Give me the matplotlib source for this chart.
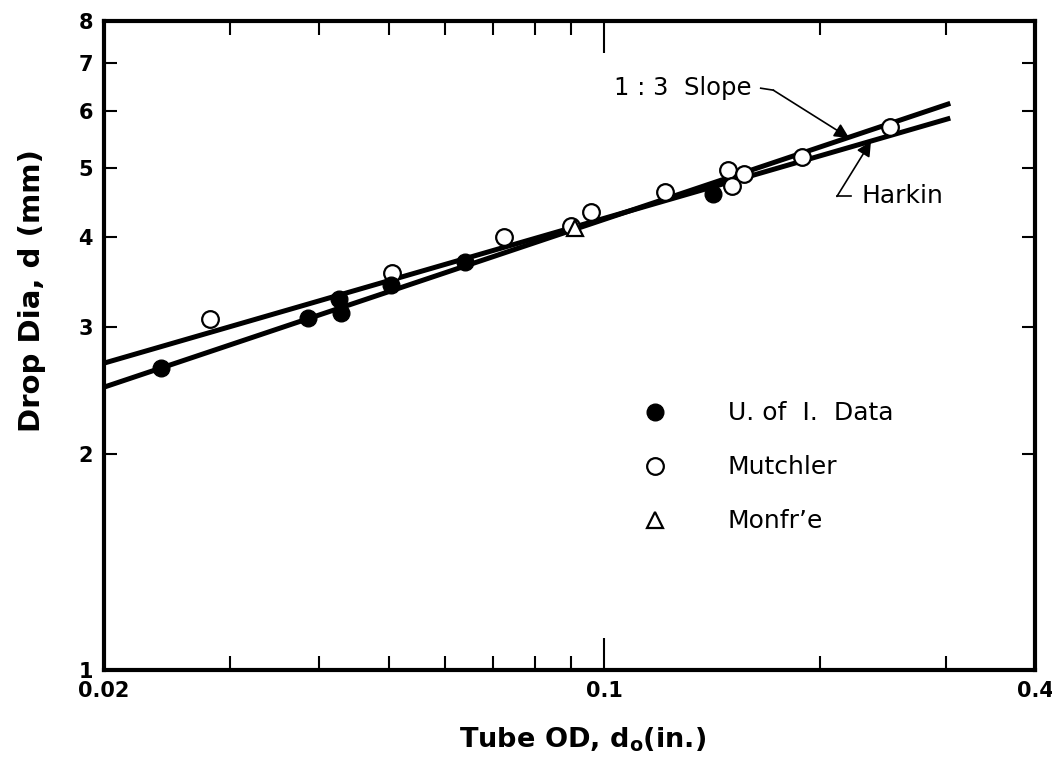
import numpy as np
import matplotlib
matplotlib.use("Agg")
import matplotlib.pyplot as plt
from matplotlib.ticker import FixedLocator, NullLocator, NullFormatter, FixedFormatter
from matplotlib.lines import Line2D

plt.rcParams["font.family"] = ["DejaVu Sans"]

# U. of I. data: tube OD (in.) vs drop diameter (mm)
ui_od = [0.0240, 0.0386, 0.0426, 0.0429, 0.0504, 0.0639, 0.142]
ui_d = [2.63, 3.09, 3.28, 3.14, 3.43, 3.69, 4.59]

# Mutchler
mu_od = [0.0281, 0.0506, 0.0724, 0.0900, 0.0960, 0.1215, 0.149, 0.157, 0.151, 0.189, 0.251]
mu_d = [3.08, 3.57, 4.00, 4.15, 4.34, 4.62, 4.96, 4.90, 4.71, 5.17, 5.69]

# Monfr'e
mo_od = [0.0909]
mo_d = [4.12]

# fitted lines (end points)
line_od = [0.02, 0.3046]
slope13_d = [2.475, 6.145]
harkin_d = [2.673, 5.86]

xtick_vals = [0.02, 0.1, 0.4]
xtick_labels = ["0.02", "0.1", "0.4"]
xminor_vals = [0.03, 0.04, 0.05, 0.06, 0.07, 0.08, 0.09, 0.2, 0.3]
ytick_vals = [1, 2, 3, 4, 5, 6, 7, 8]

fig = plt.figure(figsize=(10.52, 7.63), dpi=100)
ax = fig.add_axes([0.0989, 0.1219, 0.8849, 0.8506])
ax.set_xscale("log")
ax.set_yscale("log")
ax.set_xlim(0.02, 0.4)
ax.set_ylim(1, 8)

# lines
ax.plot(line_od, slope13_d, color="k", lw=3.6, solid_capstyle="butt", zorder=2)
ax.plot(line_od, harkin_d, color="k", lw=3.6, solid_capstyle="butt", zorder=2)

# data points
ax.plot(mu_od, mu_d, "o", ms=12, mfc="white", mec="k", mew=1.6, ls="none", zorder=3)
ax.plot(mo_od, mo_d, "^", ms=11, mfc="white", mec="k", mew=1.6, ls="none", zorder=4)
ax.plot(ui_od, ui_d, "o", ms=12, mfc="k", mec="k", ls="none", zorder=3)

# axes styling
for s in ax.spines.values():
    s.set_linewidth(3)
ax.xaxis.set_major_locator(FixedLocator(xtick_vals))
ax.xaxis.set_major_formatter(FixedFormatter(xtick_labels))
ax.xaxis.set_minor_locator(FixedLocator(xminor_vals))
ax.xaxis.set_minor_formatter(NullFormatter())
ax.yaxis.set_major_locator(FixedLocator(ytick_vals))
ax.yaxis.set_major_formatter(FixedFormatter([str(v) for v in ytick_vals]))
ax.yaxis.set_minor_locator(NullLocator())

ax.tick_params(axis="x", which="major", direction="in", length=23, width=1.5,
               top=True, labelsize=15, pad=8)
ax.tick_params(axis="x", which="minor", direction="in", length=10, width=1.5, top=True)
ax.tick_params(axis="y", which="major", direction="in", length=9.5, width=1.5,
               right=True, labelsize=15, pad=8)
for lab in ax.get_xticklabels() + ax.get_yticklabels():
    lab.set_fontweight("bold")

ax.set_xlabel(r"Tube OD, d$_\mathregular{o}$(in.)", fontsize=19.5, fontweight="bold")
ax.xaxis.set_label_coords(0.514, -0.085)
ax.set_ylabel("Drop Dia, d (mm)", fontsize=21, fontweight="bold")
ax.yaxis.set_label_coords(-0.062, 0.585)

# annotations
ax.text(0.1605, 6.45, "1 : 3  Slope", fontsize=17.5, ha="right", va="center")
ax.plot([0.1655, 0.1723], [6.45, 6.41], color="k", lw=1.2)
ax.annotate("", xy=(0.22, 5.50), xytext=(0.1723, 6.41),
            arrowprops=dict(arrowstyle="-|>", color="k", lw=1.2, mutation_scale=22,
                            shrinkA=0, shrinkB=0))

ax.text(0.229, 4.56, "Harkin", fontsize=18, ha="left", va="center")
ax.plot([0.2115, 0.2215], [4.56, 4.56], color="k", lw=1.2)
ax.annotate("", xy=(0.236, 5.44), xytext=(0.2115, 4.56),
            arrowprops=dict(arrowstyle="-|>", color="k", lw=1.2, mutation_scale=22,
                            shrinkA=0, shrinkB=0))

# legend
handles = [
    Line2D([], [], marker="o", ls="none", ms=12, mfc="k", mec="k"),
    Line2D([], [], marker="o", ls="none", ms=12, mfc="white", mec="k", mew=1.6),
    Line2D([], [], marker="^", ls="none", ms=11, mfc="white", mec="k", mew=1.6),
]
labels = ["U. of  I.  Data", "Mutchler", "Monfr\u2019e"]
ax.legend(handles, labels, loc="upper left", bbox_to_anchor=(0.58, 0.414),
          frameon=False, fontsize=18, handlelength=0.9, handletextpad=2.45,
          labelspacing=1.2, borderpad=0, borderaxespad=0)

fig.savefig("out.png", dpi=100)
